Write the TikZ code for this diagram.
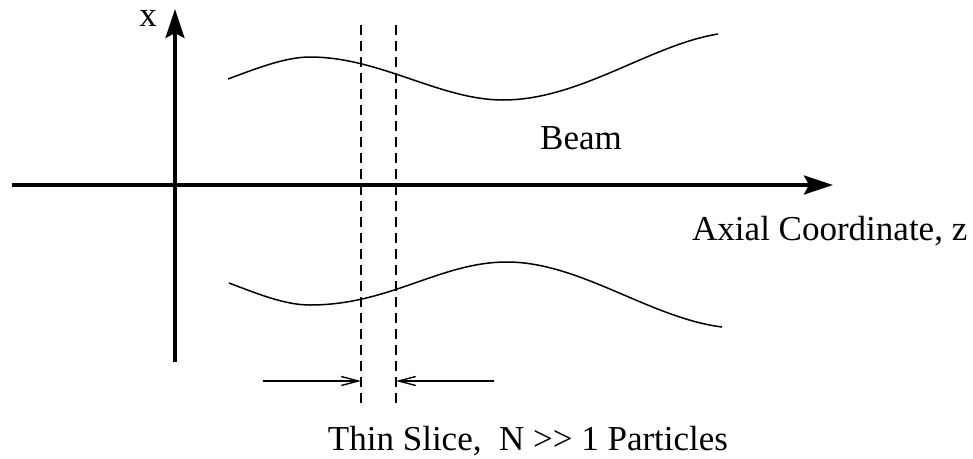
\documentclass[tikz,border=0pt]{standalone}
\usepackage{fontspec}
\setmainfont{Liberation Serif}
\usetikzlibrary{arrows.meta}

\begin{document}
\begin{tikzpicture}[x=1pt, y=-1pt,
    every node/.style={font=\fontsize{35}{41}\selectfont, inner sep=0pt},
    axis/.style={line width=3.5pt, -{Stealth[length=29pt, width=19pt, inset=5pt]}},
    slicearrow/.style={line width=1.4pt, -{Straight Barb[length=17pt, width=9pt]}},
    sliceedge/.style={line width=1.4pt, dash pattern=on 10pt off 6pt},
    beamedge/.style={line width=1.5pt}]
      \useasboundingbox (0,0) rectangle (973,458);

      % Axes
      \coordinate (xbot) at (175, 362);
      \coordinate (xtop) at (175, 9);
      \coordinate (zleft) at (12, 185);
      \coordinate (zright) at (833, 185);
      \draw[axis] (xbot) -- (xtop);
      \draw[axis] (zleft) -- (zright);

      % Labels
      \node (xlab) at (148, 26) [anchor=base] {x};
      \node (beam) at (581, 149) [anchor=base] {Beam};
      \node (zlab) at (692, 240) [anchor=base west] {Axial Coordinate, z};
      \node (slice) at (528, 450) [anchor=base] {Thin Slice,\ \ N >{}> 1 Particles};

      % Beam envelope
      \draw[beamedge] (228,79) .. controls (255,69) and (285,57) .. (310,57)
        .. controls (380,57) and (440,100) .. (503,100)
        .. controls (580,100) and (650,45) .. (718,34);
      \draw[beamedge] (229,283) .. controls (258,294) and (285,305) .. (310,305)
        .. controls (390,305) and (440,262) .. (507,262)
        .. controls (580,262) and (650,318) .. (722,327);

      % Slice boundaries
      \foreach \s/\p in {sl/361, sr/396} {
        \coordinate (\s top) at (\p, 25);
        \coordinate (\s bot) at (\p, 405);
        \coordinate (\s mid) at (\p, 381);
        \draw[sliceedge] (\s top) -- (\s bot);
      }
      \coordinate (al) at (263, 381);
      \coordinate (ar) at (494, 381);
      \draw[slicearrow] (al) -- (slmid);
      \draw[slicearrow] (ar) -- (srmid);

\end{tikzpicture}
\end{document}
